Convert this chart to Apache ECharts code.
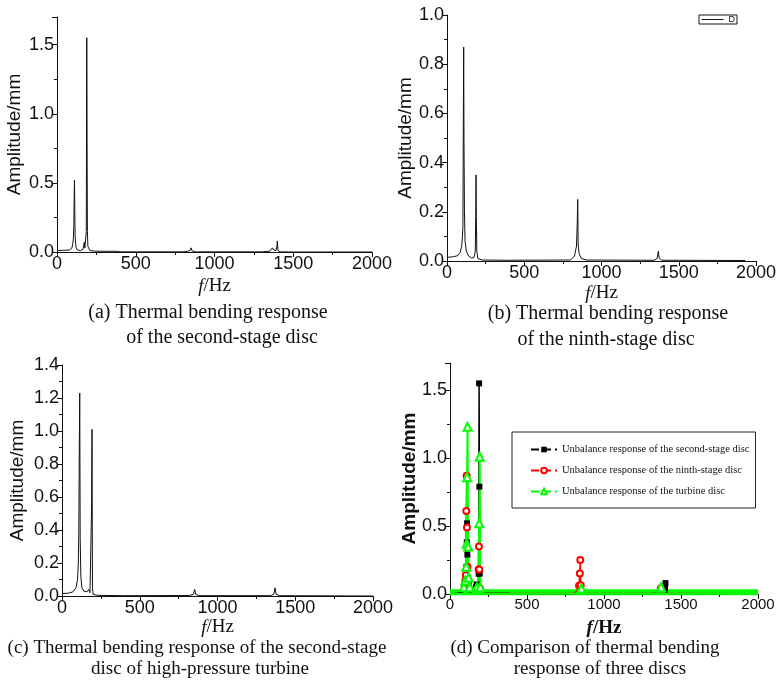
<!DOCTYPE html>
<html>
<head>
<meta charset="utf-8">
<script src="https://cdn.jsdelivr.net/npm/echarts@6/dist/echarts.min.js"></script>
<style>
  html, body { margin: 0; padding: 0; background: #fff; }
  #chart { width: 780px; height: 686px; }
</style>
</head>
<body>
<div id="chart"></div>
<script>
// (a) second-stage disc
var freqA = [0, 40, 80, 95, 100, 104, 107, 109, 111, 113, 115, 118, 122, 130, 150, 165, 170, 173, 177, 182, 186, 189, 191, 193, 196, 200, 210, 240, 300, 380, 400, 800, 830, 845, 851, 858, 880, 1300, 1350, 1368, 1374, 1382, 1390, 1396, 1399, 1403, 1420, 1500, 2000];
var ampA = [0.012, 0.012, 0.015, 0.03, 0.06, 0.1, 0.2, 0.38, 0.52, 0.29, 0.12, 0.06, 0.03, 0.015, 0.01, 0.02, 0.05, 0.07, 0.03, 0.04, 0.15, 1.55, 0.79, 0.15, 0.04, 0.03, 0.01, 0.006, 0.005, 0.005, 0.001, 0.001, 0.005, 0.012, 0.03, 0.008, 0.001, 0.001, 0.005, 0.03, 0.015, 0.02, 0.01, 0.04, 0.08, 0.01, 0.001, 0, 0];

// (b) ninth-stage disc
var freqB = [0, 40, 70, 85, 95, 100, 103, 106, 108, 110, 113, 117, 125, 140, 160, 175, 183, 186, 188, 190, 193, 200, 230, 390, 800, 825, 838, 843, 846, 849, 855, 870, 900, 1340, 1360, 1368, 1373, 1390, 1930];
var ampB = [0.015, 0.017, 0.022, 0.035, 0.06, 0.1, 0.14, 0.61, 0.87, 0.49, 0.2, 0.08, 0.04, 0.02, 0.012, 0.015, 0.04, 0.18, 0.35, 0.18, 0.04, 0.01, 0.004, 0.003, 0.004, 0.02, 0.06, 0.15, 0.25, 0.065, 0.03, 0.01, 0.004, 0.003, 0.01, 0.04, 0.012, 0.003, 0.002];

// (c) high-pressure turbine disc
var freqC = [0, 40, 70, 90, 100, 105, 108, 111, 114, 117, 121, 128, 140, 160, 172, 176, 180, 186, 190, 193, 196, 200, 230, 400, 820, 845, 853, 860, 880, 1340, 1362, 1370, 1377, 1400, 2000];
var ampC = [0.015, 0.017, 0.025, 0.05, 0.1, 0.2, 0.37, 0.86, 1.23, 0.35, 0.12, 0.05, 0.03, 0.025, 0.04, 0.05, 0.02, 0.03, 0.52, 1.01, 0.05, 0.01, 0.004, 0.002, 0.003, 0.01, 0.04, 0.01, 0.002, 0.002, 0.01, 0.05, 0.01, 0.002, 0];

var zeroFreq = [0, 2000];
var zeroAmp = [0, 0];
var greenBase = [0.012, 0.012];

var captions = [
  ['(a) Thermal bending response', 'of the second-stage disc'],
  ['(b) Thermal bending response', 'of the ninth-stage disc'],
  ['(c) Thermal bending response of the second-stage', 'disc of high-pressure turbine'],
  ['(d) Comparison of thermal bending', 'response of three discs']
];
var legendNames = [
  'Unbalance response of the second-stage disc',
  'Unbalance response of the ninth-stage disc',
  'Unbalance response of the turbine disc'
];

function pairs(xs, ys) {
  return xs.map(function (x, i) { return [x, ys[i]]; });
}

var chart = echarts.init(document.getElementById('chart'));

var grids = [
  { left: 57, top: 17, width: 315, height: 235 },
  { left: 447, top: 15, width: 309, height: 246 },
  { left: 62, top: 365, width: 311, height: 231 },
  { left: 450, top: 363, width: 308, height: 231 }
];
var yMax = [1.7, 1.0, 1.4, 1.7];
var yStep = [0.5, 0.2, 0.2, 0.5];
var nameGapX = [25, 23, 22, 25];
var nameGapY = [33, 32, 35, 31];

var xAxes = [], yAxes = [];
for (var i = 0; i < 4; i++) {
  var bold = i === 3 ? 'bold' : 'normal';
  xAxes.push({
    type: 'value', gridIndex: i, min: 0, max: 2000, interval: 500,
    name: '{i|f}/Hz', nameLocation: 'middle', nameGap: nameGapX[i], nameMoveOverlap: false,
    nameTextStyle: {
      fontFamily: 'Liberation Serif', fontSize: 19, color: '#111', fontWeight: bold,
      rich: { i: { fontFamily: 'Liberation Serif', fontSize: 19, fontStyle: 'italic', color: '#111', fontWeight: bold } }
    },
    axisLine: { lineStyle: { color: '#111', width: 1 } },
    axisTick: { length: 5, lineStyle: { color: '#111' } },
    minorTick: { show: true, splitNumber: 2, length: 3, lineStyle: { color: '#111' } },
    axisLabel: {
      fontFamily: 'Liberation Sans', fontSize: i === 3 ? 15 : 18, color: '#111', margin: 3,
      formatter: function (v) { return String(v); }
    },
    splitLine: { show: false }
  });
  yAxes.push({
    type: 'value', gridIndex: i, min: 0, max: yMax[i], interval: yStep[i],
    name: 'Amplitude/mm', nameLocation: 'middle', nameGap: nameGapY[i], nameMoveOverlap: false,
    nameTextStyle: { fontFamily: 'Liberation Sans', fontSize: 19, color: '#111', fontWeight: bold },
    axisLine: { show: true, lineStyle: { color: '#111', width: 1 } },
    axisTick: { length: 5, lineStyle: { color: '#111' } },
    minorTick: { show: true, splitNumber: 2, length: 3, lineStyle: { color: '#111' } },
    axisLabel: {
      fontFamily: 'Liberation Sans', fontSize: 18, color: '#111', margin: 3,
      showMaxLabel: i === 1 || i === 2,
      formatter: function (v) { return v.toFixed(1); }
    },
    splitLine: { show: false }
  });
}

function markSize(s) {
  return function (v) { return v[1] >= 0.04 ? s : 0; };
}

var series = [
  { type: 'line', name: 'A', xAxisIndex: 0, yAxisIndex: 0, data: pairs(freqA, ampA), symbol: 'none',
    lineStyle: { color: '#111', width: 1 }, itemStyle: { color: '#111' } },
  { type: 'line', name: 'D', xAxisIndex: 1, yAxisIndex: 1, data: pairs(freqB, ampB), symbol: 'none',
    lineStyle: { color: '#111', width: 1 }, itemStyle: { color: '#111' } },
  { type: 'line', name: 'C', xAxisIndex: 2, yAxisIndex: 2, data: pairs(freqC, ampC), symbol: 'none',
    lineStyle: { color: '#111', width: 1 }, itemStyle: { color: '#111' } },
  { type: 'line', name: 'zero', xAxisIndex: 3, yAxisIndex: 3, data: pairs(zeroFreq, zeroAmp), symbol: 'none',
    lineStyle: { color: '#cc22cc', width: 2 }, z: 1 },
  // thick green baseline seen in panel (d)
  { type: 'line', name: 'green base', xAxisIndex: 3, yAxisIndex: 3, data: pairs(zeroFreq, greenBase), symbol: 'none',
    lineStyle: { color: '#00ff00', width: 6 }, z: 1 },
  { type: 'line', name: legendNames[0], xAxisIndex: 3, yAxisIndex: 3, data: pairs(freqA, ampA),
    symbol: 'rect', symbolSize: markSize(6), showAllSymbol: true,
    lineStyle: { color: '#000', width: 1.5 }, itemStyle: { color: '#000' } },
  { type: 'line', name: legendNames[1], xAxisIndex: 3, yAxisIndex: 3, data: pairs(freqB, ampB),
    symbol: 'emptyCircle', symbolSize: markSize(6), showAllSymbol: true,
    lineStyle: { color: '#ff0000', width: 1.5 }, itemStyle: { color: '#ff0000' } },
  { type: 'line', name: legendNames[2], xAxisIndex: 3, yAxisIndex: 3, data: pairs(freqC, ampC),
    symbol: 'emptyTriangle', symbolSize: markSize(8), showAllSymbol: true,
    lineStyle: { color: '#00ff00', width: 2 }, itemStyle: { color: '#00ff00' } }
];

var graphics = [];
var capPos = [[208, 313, 222, 338], [608, 314, 606, 340], [197, 648, 200, 669], [585, 648, 600, 669]];
captions.forEach(function (c, k) {
  var fs = k < 2 ? 20 : 19;
  graphics.push({ type: 'text', x: capPos[k][0], y: capPos[k][1],
    style: { text: c[0], fontFamily: 'Liberation Serif', fontSize: fs, fill: '#111', textAlign: 'center', textVerticalAlign: 'middle' } });
  graphics.push({ type: 'text', x: capPos[k][2], y: capPos[k][3],
    style: { text: c[1], fontFamily: 'Liberation Serif', fontSize: fs, fill: '#111', textAlign: 'center', textVerticalAlign: 'middle' } });
});

var option = {
  backgroundColor: '#fff',
  animation: false,
  grid: grids,
  xAxis: xAxes,
  yAxis: yAxes,
  legend: [
    { data: ['D'], right: 43, top: 15, orient: 'vertical', itemWidth: 22, itemHeight: 6,
      padding: [0, 2, 0, 2], borderColor: '#111', borderWidth: 1,
      itemStyle: { opacity: 0 }, lineStyle: { width: 1 },
      textStyle: { fontFamily: 'Liberation Sans', fontSize: 9, color: '#111' } },
    { data: legendNames, left: 512, top: 432, orient: 'vertical', itemWidth: 26, itemHeight: 7, itemGap: 10,
      padding: [12, 6, 11, 18], borderColor: '#222', borderWidth: 1,
      lineStyle: { type: 'dashed' },
      textStyle: { fontFamily: 'Liberation Serif', fontSize: 10.5, color: '#111' } }
  ],
  series: series,
  graphic: graphics
};
chart.setOption(option);
</script>
</body>
</html>
